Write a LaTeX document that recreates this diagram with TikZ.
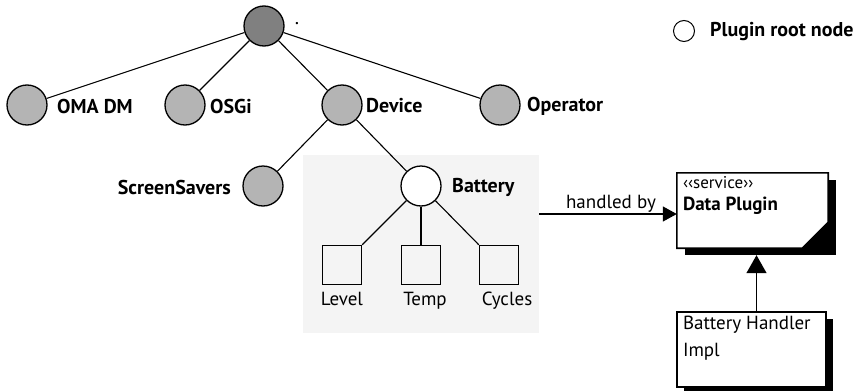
\documentclass[tikz,border=0pt]{standalone}
\usepackage{fontspec}
\setmainfont{PT Sans}
\usetikzlibrary{arrows.meta}
\definecolor{rootgray}{HTML}{808080}
\definecolor{nodegray}{HTML}{B4B4B4}
\definecolor{bggray}{HTML}{F4F4F4}
\begin{document}
\begin{tikzpicture}[x=1pt,y=-1pt,
  every node/.style={font=\fontsize{19}{22}\selectfont},
  tnode/.style={circle,draw,line width=1.3pt,minimum size=40pt,inner sep=0pt,fill=nodegray},
  lbl/.style={font=\fontsize{20}{24}\selectfont\bfseries,inner sep=0pt},
  leaf/.style={rectangle,draw,line width=1.3pt,minimum size=39pt,inner sep=0pt},
  leaflbl/.style={font=\fontsize{19}{22}\selectfont,inner sep=0pt},
  edge/.style={line width=1.1pt},
  boxtxt/.style={font=\fontsize{19}{22}\selectfont,inner sep=0pt,align=left}
]
\useasboundingbox (0,0) rectangle (857,391);
% background
\fill[bggray] (303,155) rectangle (539,333);
% tree nodes
\node[tnode,fill=rootgray] (root) at (264,26) {};
\node[inner sep=0pt,font=\fontsize{20}{24}\selectfont,anchor=base] (rootlbl) at (297,24) {.};
\node[tnode] (oma) at (27,105) {};
\node[tnode] (osgi) at (185,105) {};
\node[tnode] (dev) at (342,105) {};
\node[tnode] (op) at (500,105) {};
\node[lbl,anchor=west] (omal) at (57,106) {OMA DM};
\node[lbl,anchor=west] (osgil) at (210,106) {OSGi};
\node[lbl,anchor=west] (devl) at (366,106) {Device};
\node[lbl,anchor=west] (opl) at (527,106) {Operator};
\node[tnode] (ss) at (263,186) {};
\node[tnode,fill=white] (bat) at (421,186) {};
\node[lbl,anchor=east] (ssl) at (231,187) {ScreenSavers};
\node[lbl,anchor=west] (batl) at (452,187) {Battery};
\node[leaf] (lev) at (342,265) {};
\node[leaf] (tmp) at (421,265) {};
\node[leaf] (cyc) at (499,265) {};
\node[leaflbl,anchor=north] (levl) at ([yshift=-7]lev.south) {Level};
\node[leaflbl,anchor=north] (tmpl) at ([xshift=4,yshift=-7]tmp.south) {Temp};
\node[leaflbl,anchor=north] (cycl) at ([xshift=8,yshift=-7]cyc.south) {Cycles};
% tree edges
\draw[edge] (root) -- (oma);
\draw[edge] (root) -- (osgi);
\draw[edge] (root) -- (dev);
\draw[edge] (root) -- (op);
\draw[edge] (dev) -- (ss);
\draw[edge] (dev) -- (bat);
\draw[edge] (bat) -- (lev.north east);
\draw[edge] (bat) -- (tmp.north);
\draw[edge] (bat) -- (cyc.north west);
% legend
\node[circle,draw,line width=1pt,minimum size=21pt,inner sep=0pt] (leg) at (684,31) {};
\node[lbl,anchor=west] (legl) at (710,32) {Plugin root node};
% Data Plugin box
\node[minimum width=151pt,minimum height=75pt,inner sep=0pt] (dp) at (752.5,210.5) {};
\fill[black] ([xshift=8,yshift=-7]dp.north west) rectangle ([xshift=8,yshift=-7]dp.south east);
\filldraw[fill=white,line width=1.6pt] (dp.north west) -- (dp.north east) -- ([yshift=26]dp.south east) -- ([xshift=-26]dp.south east) -- (dp.south west) -- cycle;
\node[boxtxt,anchor=base west,font=\fontsize{17}{20}\selectfont] (svc) at ([xshift=6,yshift=-16]dp.north west) {‹‹service››};
\node[boxtxt,anchor=base west,font=\fontsize{19}{22}\selectfont\bfseries] (dpl) at ([yshift=-22]svc.base west) {Data Plugin};
% Battery Handler Impl box
\node[minimum width=149pt,minimum height=75pt,inner sep=0pt] (bh) at (751.5,349.5) {};
\fill[black] ([xshift=7,yshift=-7]bh.north west) rectangle ([xshift=7,yshift=-7]bh.south east);
\filldraw[fill=white,line width=1.6pt] (bh.north west) rectangle (bh.south east);
\node[boxtxt,anchor=north west] (bhl) at ([xshift=6,yshift=-4]bh.north west) {Battery Handler\\[5pt]Impl};
% handled by
\coordinate (hs) at (539,214);
\draw[line width=1.3pt,-{Triangle[length=14pt,width=15pt]}] (hs) -- (dp.west |- hs);
\node[font=\fontsize{19}{22}\selectfont,anchor=base,inner sep=0pt] (hb) at (611,208) {handled by};
% inheritance
\coordinate (bhtop) at ([xshift=5]bh.north);
\coordinate (dpbot) at ([yshift=-7]dp.south);
\draw[line width=1.3pt,-{Triangle[length=18pt,width=20pt]}] (bhtop) -- (bhtop |- dpbot);
\end{tikzpicture}
\end{document}
